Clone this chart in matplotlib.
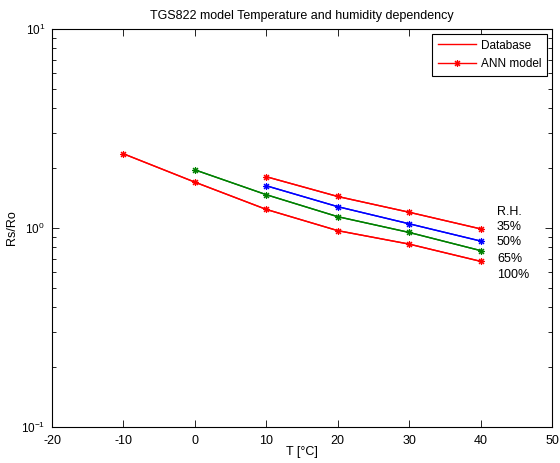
import matplotlib
matplotlib.use("Agg")
import matplotlib.pyplot as plt

plt.rcParams['font.family'] = ['Liberation Sans', 'DejaVu Sans']
plt.rcParams['mathtext.fontset'] = 'custom'
plt.rcParams['mathtext.rm'] = 'Liberation Sans'
plt.rcParams['axes.unicode_minus'] = False
plt.rcParams['font.size'] = 9

# Data
t_100 = [-10, 0, 10, 20, 30, 40]
rs_100 = [2.36, 1.70, 1.24, 0.97, 0.83, 0.68]
t_65 = [0, 10, 20, 30, 40]
rs_65 = [1.96, 1.47, 1.14, 0.95, 0.77]
t_50 = [10, 20, 30, 40]
rs_50 = [1.63, 1.28, 1.05, 0.86]
t_35 = [10, 20, 30, 40]
rs_35 = [1.81, 1.44, 1.20, 0.99]

rh_labels = ["R.H.", "35%", "50%", "65%", "100%"]
rh_label_y = [1.20, 1.01, 0.851, 0.70, 0.58]
rh_label_x = 42.3

series = [
    (t_35, rs_35, 'red'),
    (t_50, rs_50, 'blue'),
    (t_65, rs_65, 'green'),
    (t_100, rs_100, 'red'),
]

fig = plt.figure(figsize=(5.6, 4.63), dpi=100)
ax = fig.add_axes([52/560, 36/463, 500/560, 398/463])

ast = (8, 2, 0)
for i, (t, rs, c) in enumerate(series):
    ax.plot(t, rs, color=c, lw=1.0, label='Database' if i == 0 else None)
    ax.plot(t, rs, color=c, lw=1.0, marker=ast, markersize=5, markeredgewidth=0.8,
            label='ANN model' if i == 0 else None)

for lab, y in zip(rh_labels, rh_label_y):
    ax.text(rh_label_x, y, lab, va='center', ha='left', fontsize=9)

ax.set_yscale('log')
ax.set_xlim(-20, 50)
ax.set_ylim(0.1, 10)
ax.set_xticks(range(-20, 51, 10))
ax.tick_params(which='both', direction='in', top=True, right=True, color='black', labelcolor='black')
ax.tick_params(which='major', length=5, width=0.6)
ax.tick_params(which='minor', length=3, width=0.6)
ax.tick_params(axis='x', pad=6)
ax.tick_params(axis='y', pad=5, labelsize=8.5)
for s in ax.spines.values():
    s.set_color('black')
    s.set_linewidth(0.8)

ax.set_title('TGS822 model Temperature and humidity dependency', fontsize=9, pad=7)
ax.set_xlabel('T [°C]', fontsize=9)
ax.set_ylabel('Rs/Ro', fontsize=9)
ax.xaxis.set_label_coords(0.5, -0.048)
ax.yaxis.set_label_coords(-0.068, 0.5)

leg = ax.legend(loc='upper right', fontsize=8.5, fancybox=False, framealpha=1,
                edgecolor='black', borderaxespad=0.4, handlelength=3.2,
                handletextpad=0.45, borderpad=0.5, labelspacing=0.55)
leg.get_frame().set_linewidth(0.8)

fig.savefig('out.png', dpi=100)
